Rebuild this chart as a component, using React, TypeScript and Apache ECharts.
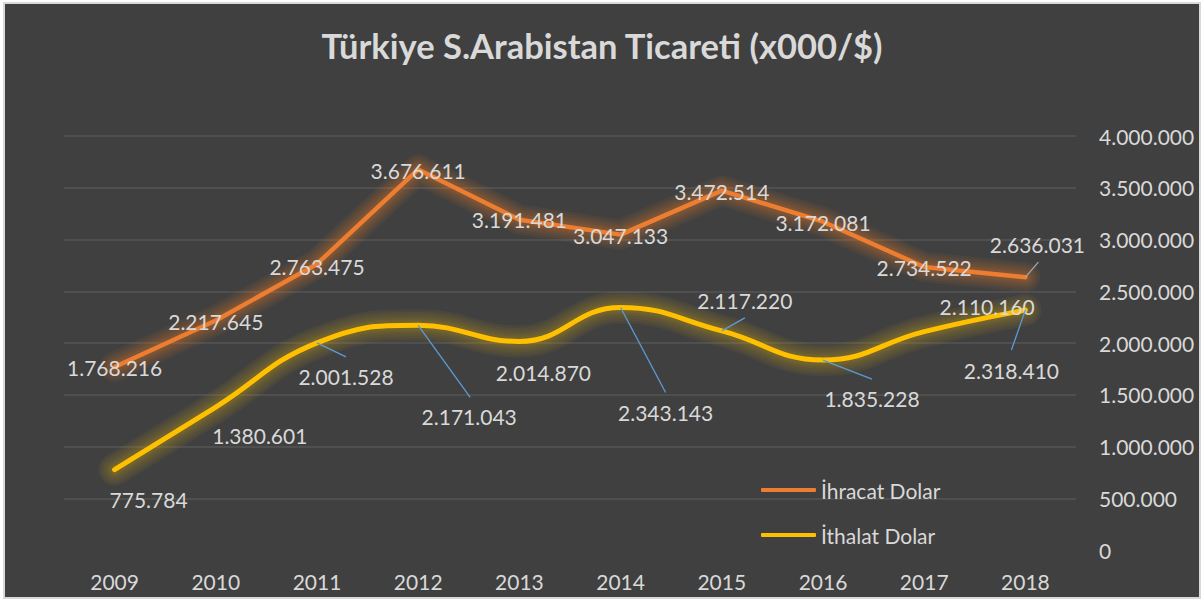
import React, { useEffect, useRef } from "react";
import * as echarts from "echarts";

const titleText = "Türkiye S.Arabistan Ticareti (x000/$)";
const years = ["2009", "2010", "2011", "2012", "2013", "2014", "2015", "2016", "2017", "2018"];
const exportName = "İhracat Dolar";
const importName = "İthalat Dolar";
const exportValues = [1768216, 2217645, 2763475, 3676611, 3191481, 3047133, 3472514, 3172081, 2734522, 2636031];
const importValues = [775784, 1380601, 2001528, 2171043, 2014870, 2343143, 2117220, 1835228, 2110160, 2318410];

// label offsets (px) from the point
const exportLabelOffsets = [[0, 1], [0, 1], [0, 3], [0, 1], [0, 0], [0, 1], [0, 1], [0, 1], [0, 1], [12, -33]];
const importLabelOffsets = [[34, 30], [44, 28], [29, 34], [51, 91], [24, 31], [45, 105], [23, -30], [49, 38], [63, -25], [-14, 60]];
// leader line end offsets (px) from the point; null = no leader line
const exportLeaderEnds: (number[] | null)[] = [null, null, null, null, null, null, null, null, null, [13, -15]];
const importLeaderEnds: (number[] | null)[] = [null, null, [29, 14], [52, 72], null, [45, 85], [23, -13], [49, 19], null, [-14, 40]];

const FONT = "Lato, 'Open Sans', sans-serif";
const TEXT = "#d9d9d9";
const ORANGE = "#ED7D31";
const YELLOW = "#FFC000";

function fmt(v: number): string {
  return String(v).replace(/\B(?=(\d{3})+(?!\d))/g, ".");
}

export default function App() {
  const ref = useRef<HTMLDivElement>(null);
  useEffect(() => {
    if (!ref.current) return;
    const chart = echarts.init(ref.current, undefined, { renderer: "svg" });
    const mkLayout = (offs: number[][]) => (p: any) => {
      const o = offs[p.dataIndex] || [0, 0];
      return {
        x: p.rect.x + p.rect.width / 2 + o[0],
        y: p.rect.y + p.rect.height / 2 + o[1],
        align: "center",
        verticalAlign: "middle",
      };
    };
    const labelCommon = {
      show: true,
      position: "inside",
      color: TEXT,
      fontFamily: FONT,
      fontSize: 21,
      formatter: (p: any) => fmt(p.value),
    };
    const glow = (name: string, vals: number[], color: string, smooth: number | boolean, widths: number[], op: number) =>
      widths.map((w, k) => ({
        name: name + "-glow" + k,
        type: "line",
        data: vals,
        smooth,
        symbol: "none",
        silent: true,
        z: 1,
        lineStyle: { color, width: w, opacity: op, cap: "round", join: "round" },
        emphasis: { disabled: true },
        tooltip: { show: false },
      }));
    const leaders = (name: string, vals: number[], ends: (number[] | null)[], color: string) => ({
      name,
      type: "custom",
      silent: true,
      z: 4,
      data: vals.map((v, i) => [i, v]),
      encode: { x: 0, y: 1 },
      renderItem: (params: any, api: any) => {
        const e = ends[params.dataIndex];
        if (!e) return null;
        const pt = api.coord([api.value(0), api.value(1)]);
        return {
          type: "line",
          shape: { x1: pt[0], y1: pt[1], x2: pt[0] + e[0], y2: pt[1] + e[1] },
          style: { stroke: color, lineWidth: 1.3 },
        };
      },
    });
    chart.setOption({
      animation: false,
      backgroundColor: "#ffffff",
      textStyle: { fontFamily: FONT },
      graphic: [
        {
          type: "rect",
          z: -10,
          silent: true,
          shape: { x: 4, y: 3, width: 1196, height: 595 },
          style: { fill: "#404040", stroke: "#d9d9d9", lineWidth: 2 },
        },
      ],
      title: {
        text: titleText,
        left: "center",
        top: 23,
        textStyle: { color: TEXT, fontFamily: FONT, fontWeight: "bold", fontSize: 34.5 },
      },
      legend: {
        orient: "vertical",
        left: 761,
        top: 478,
        padding: 0,
        itemWidth: 55,
        itemHeight: 4,
        itemGap: 21,
        textStyle: { color: TEXT, fontFamily: FONT, fontSize: 21, lineHeight: 24 },
        data: [
          { name: exportName, icon: "roundRect", itemStyle: { color: ORANGE } },
          { name: importName, icon: "roundRect", itemStyle: { color: YELLOW } },
        ],
      },
      grid: { left: 64, right: 128, top: 136, bottom: 52, containLabel: false },
      xAxis: {
        type: "category",
        data: years,
        boundaryGap: true,
        axisLine: { show: false },
        axisTick: { show: false },
        axisLabel: { color: TEXT, fontFamily: FONT, fontSize: 21, margin: 21 },
      },
      yAxis: {
        type: "value",
        position: "right",
        min: 0,
        max: 4000000,
        interval: 500000,
        axisLine: { show: false },
        axisTick: { show: false },
        splitLine: { show: true, showMinLine: false, lineStyle: { color: "#555555", width: 1.5 } },
        axisLabel: {
          color: TEXT,
          fontFamily: FONT,
          fontSize: 21,
          margin: 23,
          align: "left",
          formatter: (v: number) => fmt(v),
        },
      },
      series: [
        ...glow(exportName, exportValues, ORANGE, false, [30, 25, 20, 16, 12, 9], 0.07),
        ...glow(importName, importValues, "#C9A520", 0.45, [32, 27, 22, 17, 13, 10], 0.075),
        leaders("exp-leaders", exportValues, exportLeaderEnds, "#a6a6a6"),
        leaders("imp-leaders", importValues, importLeaderEnds, "#5B9BD5"),
        {
          name: exportName,
          type: "line",
          data: exportValues,
          color: ORANGE,
          smooth: false,
          symbol: "circle",
          symbolSize: 2,
          showSymbol: true,
          itemStyle: { color: "rgba(0,0,0,0)" },
          lineStyle: { color: ORANGE, width: 4.5, cap: "round", join: "round" },
          label: labelCommon,
          labelLayout: mkLayout(exportLabelOffsets),
          emphasis: { disabled: true },
          silent: true,
          z: 3,
        },
        {
          name: importName,
          type: "line",
          data: importValues,
          color: YELLOW,
          smooth: 0.45,
          symbol: "circle",
          symbolSize: 2,
          showSymbol: true,
          itemStyle: { color: "rgba(0,0,0,0)" },
          lineStyle: { color: YELLOW, width: 5, cap: "round", join: "round" },
          label: labelCommon,
          labelLayout: mkLayout(importLabelOffsets),
          emphasis: { disabled: true },
          silent: true,
          z: 3,
        },
      ],
    });
    return () => chart.dispose();
  }, []);
  return (
    <div style={{ position: "absolute", left: 0, top: 0, width: 1204, height: 602, background: "#fff" }}>
      <div ref={ref} style={{ width: 1204, height: 602 }} />
    </div>
  );
}
